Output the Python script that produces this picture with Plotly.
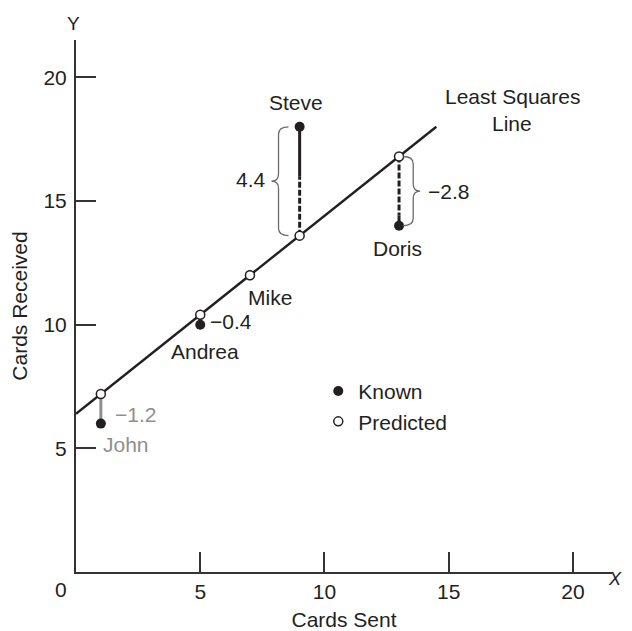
import plotly.graph_objects as go

# ---------------- data ----------------
names = ["John", "Andrea", "Mike", "Steve", "Doris"]
cards_sent = [1, 5, 7, 9, 13]
cards_received = [6, 10, 12, 18, 14]
intercept = 6.4
slope = 0.8
line_x = [0, 14.5]
x_tick_vals = [5, 10, 15, 20]
y_tick_vals = [5, 10, 15, 20]
dashed_part = [0, 0, 0, 2.4, 2.4]   # part of residual drawn dashed (next to predicted point)

predicted = [intercept + slope * x for x in cards_sent]
residuals = [round(k - p, 1) for k, p in zip(cards_received, predicted)]
line_y = [intercept + slope * x for x in line_x]

DARK = "#231f20"
GRAY = "#8f8f8f"
FONT = "Liberation Sans, Arial, sans-serif"
FS = 21

fig = go.Figure()

# least squares line
fig.add_trace(go.Scatter(x=line_x, y=line_y, mode="lines",
                         line=dict(color=DARK, width=2.4), showlegend=False, hoverinfo="skip"))

# residual segments
for i, (x, k, p, r, d) in enumerate(zip(cards_sent, cards_received, predicted, residuals, dashed_part)):
    if r == 0:
        continue
    col = GRAY if i == 0 else DARK
    sign = 1 if r > 0 else -1
    split = p + sign * d
    fig.add_trace(go.Scatter(x=[x, x], y=[split, k], mode="lines",
                             line=dict(color=col, width=3), showlegend=False, hoverinfo="skip"))
    if d > 0:
        fig.add_trace(go.Scatter(x=[x, x], y=[p, split], mode="lines",
                                 line=dict(color=col, width=3, dash="6px,2px"),
                                 showlegend=False, hoverinfo="skip"))

# known points
fig.add_trace(go.Scatter(x=cards_sent, y=cards_received, mode="markers", name="Known",
                         legendgroup="k", legendrank=1,
                         marker=dict(color=DARK, size=10, line=dict(width=0))))
# predicted points
fig.add_trace(go.Scatter(x=cards_sent, y=predicted, mode="markers", name="Predicted",
                         legendgroup="p", legendrank=2,
                         marker=dict(color="white", size=9, line=dict(color=DARK, width=1.5))))

# braces
def brace(xv, y0, y1, side):
    # side = -1: "{" ; +1: "}"
    w = 0.40   # hook length
    t = 0.28   # tip length
    rr = 0.30
    ym = (y0 + y1) / 2
    xh = xv - side * w
    xt = xv + side * t
    return (f"M {xh},{y1} Q {xv},{y1} {xv},{y1 - rr} L {xv},{ym + rr} "
            f"Q {xv},{ym} {xt},{ym} Q {xv},{ym} {xv},{ym - rr} "
            f"L {xv},{y0 + rr} Q {xv},{y0} {xh},{y0}")

brace_specs = {3: (-0.85, -1), 4: (0.57, 1)}
for i, (dx, side) in brace_specs.items():
    lo = min(cards_received[i], predicted[i])
    hi = max(cards_received[i], predicted[i])
    fig.add_shape(type="path", xref="x", yref="y",
                  path=brace(cards_sent[i] + dx, lo, hi, side),
                  line=dict(color="#6b6b6b", width=1.3))

# name labels
name_offsets = {"John": (0, -21, "left"), "Andrea": (5, -27, "center"),
                "Mike": (20, -22, "center"), "Steve": (-4, 24, "center"),
                "Doris": (-2, -23, "center")}
for i, n in enumerate(names):
    xs, ys, xa = name_offsets[n]
    fig.add_annotation(x=cards_sent[i], y=cards_received[i], text=n, showarrow=False,
                       xshift=xs, yshift=ys, xanchor=xa, yanchor="middle",
                       font=dict(size=FS, color=GRAY if i == 0 else DARK, family=FONT))

# residual labels
def fmt(r):
    s = f"{abs(r):.1f}"
    return ("\u2212" + s) if r < 0 else s

res_pos = {0: (None, 12, -6, "left"), 1: (None, 8, -2, "left"),
           3: (-0.85 - 0.28, -4, 2, "right"), 4: (0.57 + 0.28, 6, 0, "left")}
for i, (dx, xs, ys, xa) in res_pos.items():
    xv = cards_sent[i] + (dx if dx is not None else 0)
    ym = (cards_received[i] + predicted[i]) / 2
    fig.add_annotation(x=xv, y=ym, text=fmt(residuals[i]), showarrow=False,
                       xshift=xs, yshift=ys, xanchor=xa, yanchor="middle",
                       font=dict(size=FS, color=GRAY if i == 0 else DARK, family=FONT))

# line label (two lines)
for txt, ys in (("Least Squares", 30), ("Line", 3)):
    fig.add_annotation(x=line_x[-1], y=line_y[-1], text=txt, showarrow=False,
                       xshift=76, yshift=ys, xanchor="center", yanchor="middle",
                       font=dict(size=FS, color=DARK, family=FONT))

# origin label and axis letters
fig.add_annotation(x=0, y=0, xref="x", yref="y", text="0", showarrow=False,
                   xshift=-15, yshift=-17, xanchor="center", yanchor="middle",
                   font=dict(size=FS, color=DARK, family=FONT))
fig.add_annotation(x=0, y=1, xref="x", yref="paper", text="Y", showarrow=False,
                   xshift=-3, yshift=17, xanchor="center", yanchor="middle",
                   font=dict(size=19, color=DARK, family=FONT))
fig.add_annotation(x=1, y=0, xref="paper", yref="y", text="<i>X</i>", showarrow=False,
                   xshift=12, yshift=-7, xanchor="right", yanchor="middle",
                   font=dict(size=18, color=DARK, family=FONT))

fig.update_xaxes(range=[0, 21.57], showline=True, linecolor="#333333", linewidth=2,
                 ticks="inside", ticklen=20, tickwidth=2, tickcolor="#333333",
                 tickvals=x_tick_vals, showgrid=False, zeroline=False, automargin=False,
                 tickfont=dict(size=FS, color=DARK, family=FONT),
                 title=dict(text="Cards Sent", font=dict(size=FS, color=DARK, family=FONT), standoff=12))
fig.update_yaxes(range=[0, 21.51], showline=True, linecolor="#333333", linewidth=2,
                 ticks="inside", ticklen=20, tickwidth=2, tickcolor="#333333",
                 tickvals=y_tick_vals, showgrid=False, zeroline=False, automargin=False,
                 ticklabelstandoff=3,
                 tickfont=dict(size=FS, color=DARK, family=FONT),
                 title=dict(text="Cards Received", font=dict(size=FS, color=DARK, family=FONT), standoff=15))

# the page body has an 8px margin; margins place the plot area where the reference has it
fig.update_layout(width=632, height=623, margin=dict(l=68, r=28, t=32, b=59),
                  plot_bgcolor="white", paper_bgcolor="white",
                  showlegend=True,
                  legend=dict(x=0.452, y=0.378, xanchor="left", yanchor="top",
                              bgcolor="rgba(0,0,0,0)", traceorder="grouped", tracegroupgap=0,
                              font=dict(size=FS, color=DARK, family=FONT)))

fig.write_html("out.html")
